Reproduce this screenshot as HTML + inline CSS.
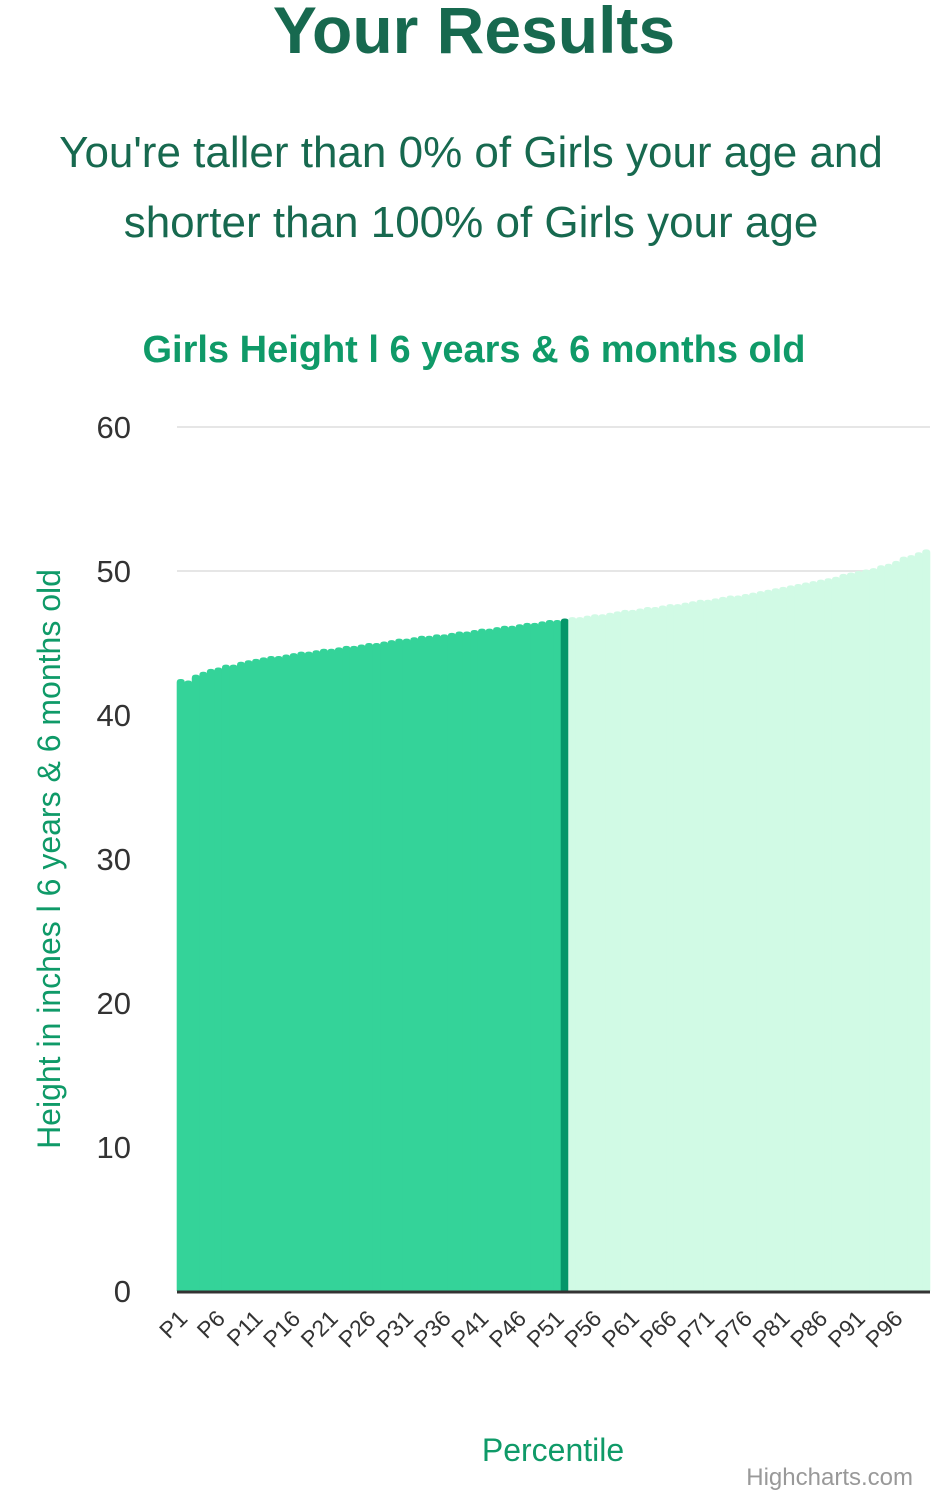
<!DOCTYPE html>
<html><head><meta charset="utf-8"><style>
body{margin:0;background:#fff;width:948px;height:1500px;overflow:hidden;font-family:"Liberation Sans",Arial,sans-serif}
h1{position:absolute;top:-8px;left:0;width:948px;text-align:center;margin:0;font-size:66px;font-weight:bold;color:#17694f}
.sub{position:absolute;top:118px;left:0;width:942px;text-align:center;font-size:44px;line-height:70px;color:#17694f}
svg{position:absolute;left:0;top:0}
</style></head><body>
<h1>Your Results</h1>
<div class="sub">You're taller than 0% of Girls your age and<br>shorter than 100% of Girls your age</div>
<svg id="c" width="948" height="1500" font-family="Liberation Sans, Arial, sans-serif"></svg>
<script>
const categories=[];for(let i=1;i<=100;i++)categories.push('P'+i);
const values=[42.5,42.4,42.8,43.0,43.2,43.3,43.5,43.5,43.7,43.8,
43.9,44.0,44.1,44.1,44.2,44.3,44.4,44.4,44.5,44.6,
44.6,44.7,44.8,44.8,44.9,45.0,45.0,45.1,45.2,45.3,
45.3,45.4,45.5,45.5,45.6,45.6,45.7,45.8,45.8,45.9,
46.0,46.0,46.1,46.2,46.2,46.3,46.4,46.4,46.5,46.6,
46.6,46.7,46.8,46.8,46.9,47.0,47.0,47.1,47.2,47.3,
47.3,47.4,47.5,47.5,47.6,47.7,47.7,47.8,47.9,48.0,
48.0,48.1,48.2,48.3,48.3,48.4,48.5,48.6,48.7,48.8,
48.9,49.0,49.1,49.2,49.3,49.4,49.5,49.6,49.8,49.9,
50.0,50.1,50.2,50.4,50.5,50.7,51.0,51.1,51.3,51.5];
const highlightIndex=51;
const yTicks=[0,10,20,30,40,50,60];
const NS='http://www.w3.org/2000/svg',svg=document.getElementById('c');
const L=177,R=930,T=427,B=1291,yMax=60;
const bw=(R-L)/categories.length;
const x=i=>L+i*bw, y=v=>B-(v/yMax)*(B-T);
function mk(t,a,txt){const e=document.createElementNS(NS,t);for(const k in a)e.setAttribute(k,a[k]);if(txt!==undefined)e.textContent=txt;svg.appendChild(e);return e;}
let e=mk('text',{x:474,y:362,'text-anchor':'middle','font-size':38,'font-weight':'bold',fill:'#0f9a68'},'Girls Height l 6 years & 6 months old');

yTicks.forEach(t=>{
 if(t>0){const g=mk('line',{x1:L,x2:R,y1:y(t),y2:y(t),stroke:'#e6e6e6','stroke-width':2});
 }
 const l=mk('text',{x:131,y:y(t)+11,'text-anchor':'end','font-size':31,fill:'#333'},t);
 
});
values.forEach((v,i)=>{
 const col=i<highlightIndex?'#34d399':(i===highlightIndex?'#059669':'#d1fae5');
 const x0=x(i)-0.3,w=bw+0.6,yt=y(v),r=3.5;
 const p=mk('path',{d:`M${x0},${B} L${x0},${yt+r} Q${x0},${yt} ${x0+r},${yt} L${x0+w-r},${yt} Q${x0+w},${yt} ${x0+w},${yt+r} L${x0+w},${B} Z`,fill:col});
 
});
e=mk('line',{x1:L,x2:R,y1:B+1,y2:B+1,stroke:'#333','stroke-width':3});

categories.forEach((c,i)=>{
 if(i%5!==0)return;
 const cx=x(i)+bw/2+8,cy=1320;
 const l=mk('text',{x:cx,y:cy,'text-anchor':'end','font-size':23,fill:'#333',transform:`rotate(-45 ${cx} ${cy})`},c);
 
});
e=mk('text',{x:553,y:1461,'text-anchor':'middle','font-size':32,fill:'#0f9a68'},'Percentile');

e=mk('text',{x:60,y:859,'text-anchor':'middle','font-size':32,fill:'#0f9a68',transform:'rotate(-90 60 859)'},'Height in inches l 6 years & 6 months old');

e=mk('text',{x:913,y:1485,'text-anchor':'end','font-size':24,fill:'#999'},'Highcharts.com');

</script>
</body></html>
